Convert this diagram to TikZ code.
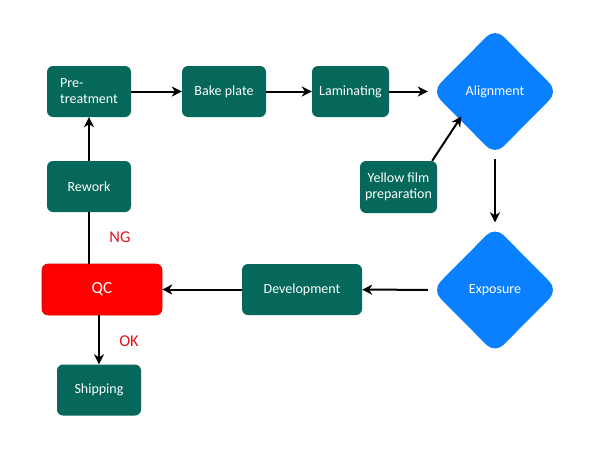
\documentclass[tikz,border=0pt]{standalone}
\usepackage{fontspec}
\setmainfont{Carlito}
\usetikzlibrary{shapes.geometric,arrows.meta}
\definecolor{boxgreen}{RGB}{5,104,90}
\definecolor{dblue}{RGB}{10,128,255}
\definecolor{qcred}{RGB}{255,0,0}
\definecolor{lblred}{RGB}{230,20,25}
\begin{document}
\begin{tikzpicture}[x=1pt,y=-1pt, font=\fontsize{14}{16}\selectfont,
 box/.style={rectangle, rounded corners=6pt, fill=boxgreen, text=white, inner sep=0pt, align=center, minimum width=84pt, minimum height=51pt},
 dia/.style={diamond, fill=dblue, text=white, inner sep=0pt, minimum width=126pt, minimum height=127pt, rounded corners=12pt},
 arr/.style={draw=black, line width=2pt, -{Stealth[length=10pt,width=10pt,inset=3pt]}},
 ln/.style={draw=black, line width=2pt},
 lbl/.style={text=lblred, inner sep=0pt, font=\fontsize{16.5}{18}\selectfont}]
\useasboundingbox (0,0) rectangle (600,450);
\node[box, align=left] (pre) at (89,91.5) {Pre-\\treatment};
\node[box] (bake) at (224,91.5) {Bake plate};
\node[box, minimum width=77pt] (lam) at (350.5,91.5) {Laminating};
\node[dia] (align) at (495,91.5) {Alignment};
\node[box, minimum width=77pt, minimum height=52pt] (yf) at (398.5,187) {Yellow film\\preparation};
\node[box] (rework) at (89,186.5) {Rework};
\node[box, fill=qcred, draw=red!85!black, line width=0.6pt, minimum width=120pt, font=\fontsize{17}{19}\selectfont] (qc) at (102,289.5) {QC};
\node[box] (ship) at (99,390) {Shipping};
\node[box, minimum width=120pt] (dev) at (302,289.5) {Development};
\node[dia] (expo) at (495,290) {Exposure};
\node[lbl] (ng) at (120,237) {NG};
\node[lbl] (ok) at (129,341) {OK};
\draw[arr] (pre) -- (bake);
\draw[arr] (bake) -- (lam);
\draw[arr, shorten >=4pt] (lam) -- (align);
\draw[arr] ([xshift=-5pt]yf.north east) -- ([shift={(-2pt,7pt)}]align.south west);
\draw[arr, shorten <=4pt, shorten >=4pt] (align) -- (expo);
\draw[arr, shorten <=4pt] (expo) -- (dev);
\draw[arr] (dev) -- (qc);
\draw[arr] (rework) -- (pre);
\draw[ln] (rework.south) -- (rework.south |- qc.north);
\draw[arr] (ship.north |- qc.south) -- (ship.north);
\end{tikzpicture}
\end{document}
